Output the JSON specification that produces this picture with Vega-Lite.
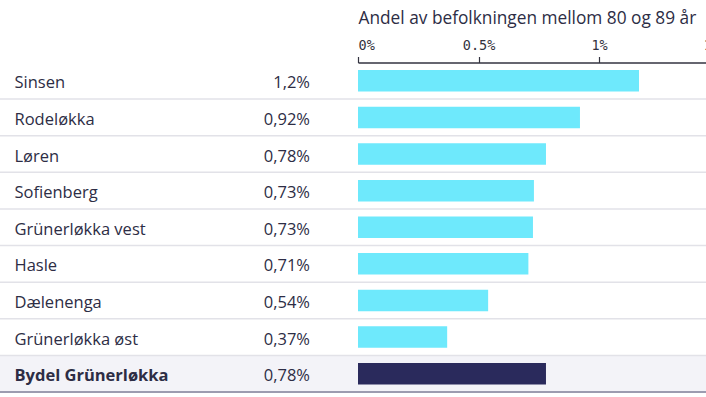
{
  "$schema": "https://vega.github.io/schema/vega-lite/v6.json",
  "autosize": "none",
  "width": 706,
  "height": 329.5,
  "padding": {"top": 62.5, "left": 0, "right": 0, "bottom": 5},
  "background": "white",
  "config": {"view": {"stroke": null}, "font": "Open Sans"},
  "data": {"values": [
    {"name": "Sinsen", "value": 1.166, "label": "1,2%", "total": false},
    {"name": "Rodeløkka", "value": 0.921, "label": "0,92%", "total": false},
    {"name": "Løren", "value": 0.78, "label": "0,78%", "total": false},
    {"name": "Sofienberg", "value": 0.73, "label": "0,73%", "total": false},
    {"name": "Grünerløkka vest", "value": 0.726, "label": "0,73%", "total": false},
    {"name": "Hasle", "value": 0.707, "label": "0,71%", "total": false},
    {"name": "Dælenenga", "value": 0.54, "label": "0,54%", "total": false},
    {"name": "Grünerløkka øst", "value": 0.37, "label": "0,37%", "total": false},
    {"name": "Bydel Grünerløkka", "value": 0.78, "label": "0,78%", "total": true}
  ]},
  "layer": [
    {
      "mark": {"type": "rect"},
      "encoding": {
        "y": {
          "field": "name", "type": "nominal", "sort": null,
          "scale": {"paddingInner": 0, "paddingOuter": 0},
          "axis": {
            "title": null, "domain": false, "ticks": false, "tickSize": 0, "grid": false,
            "labelAlign": "left", "labelPadding": -14, "labelFontSize": 16.5, "labelOffset": 2.5,
            "labelColor": "#2d2d45", "labelFont": "Open Sans", "labelLimit": 300,
            "labelFontWeight": {"condition": {"test": "datum.value === 'Bydel Grünerløkka'", "value": "bold"}, "value": "normal"}
          }
        },
        "x": {"value": 0},
        "x2": {"value": "width"},
        "fill": {"condition": {"test": "datum.total", "value": "#f3f3f8"}, "value": "transparent"}
      }
    },
    {
      "mark": {"type": "rule"},
      "encoding": {
        "y": {"field": "name", "type": "nominal", "sort": null, "bandPosition": 1},
        "color": {"condition": {"test": "datum.total", "value": "#9c9cb0"}, "value": "#e2e2e8"},
        "strokeWidth": {"condition": {"test": "datum.total", "value": 2}, "value": 1.5}
      }
    },
    {
      "mark": {"type": "bar", "size": 21.5},
      "encoding": {
        "y": {"field": "name", "type": "nominal", "sort": null},
        "x": {
          "field": "value", "type": "quantitative",
          "scale": {"domain": [0, 1.6], "range": [358, 743.6]},
          "axis": {
            "orient": "top", "title": "Andel av befolkningen mellom 80 og 89 år",
            "titleAnchor": "start", "titleAlign": "left", "titleFontSize": 17.3,
            "titleFontWeight": "normal", "titleColor": "#2d2d45", "titleFont": "Open Sans", "titlePadding": 11,
            "values": [0, 0.5, 1, 1.5], "labelExpr": "datum.value + '%'",
            "labelFont": "DejaVu Sans Mono", "labelFontSize": 13.5, "labelColor": "#333340",
            "labelFlush": true, "labelPadding": 4, "tickSize": 6, "tickColor": "#333340", "tickWidth": 1.2,
            "domainColor": "#333340", "domainWidth": 1.5, "grid": false
          }
        },
        "color": {"condition": {"test": "datum.total", "value": "#2a2a5c"}, "value": "#6ee9fc"}
      }
    },
    {
      "mark": {"type": "text", "align": "right", "baseline": "middle", "dx": -48, "dy": 2.5, "fontSize": 16.5, "color": "#2d2d45", "font": "Open Sans"},
      "encoding": {
        "y": {"field": "name", "type": "nominal", "sort": null},
        "x": {"datum": 0, "type": "quantitative"},
        "text": {"field": "label"}
      }
    }
  ]
}
